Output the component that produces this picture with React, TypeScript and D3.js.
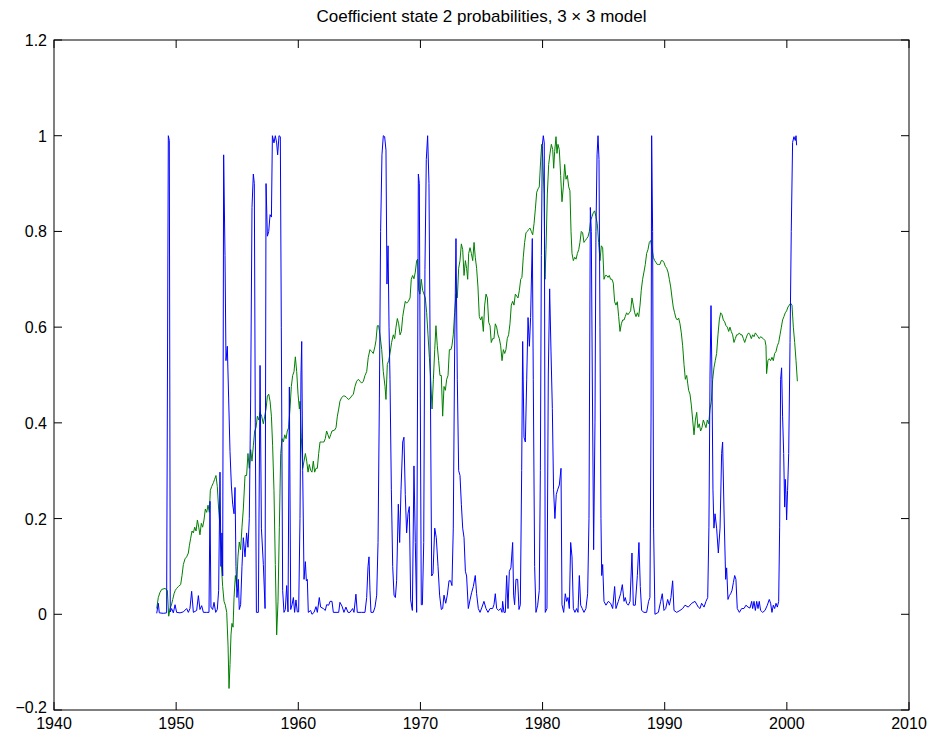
import React from "react";
import * as d3 from "d3";

const titleText = "Coefficient state 2 probabilities, 3 \u00d7 3 model";
const xTicks = [1940, 1950, 1960, 1970, 1980, 1990, 2000, 2010];
const yTicks = [-0.2, 0, 0.2, 0.4, 0.6, 0.8, 1, 1.2];

// blue series: [year, probability]
const blueSeries: [number, number][] = [
  [1948.41,0.002],[1948.54,0.023],[1948.62,0.003],[1948.95,0.002],[1949.22,0.003],[1949.36,1.0],[1949.44,0.99],[1949.52,0.005],
  [1949.63,0.012],[1949.77,0.003],[1949.91,0.02],[1950.04,0.004],[1950.32,0.003],[1950.59,0.005],[1950.86,0.012],[1951.0,0.004],
  [1951.13,0.012],[1951.27,0.048],[1951.41,0.004],[1951.68,0.008],[1951.82,0.039],[1951.95,0.01],[1952.09,0.018],[1952.23,0.004],
  [1952.5,0.004],[1952.69,0.004],[1952.77,0.236],[1952.85,0.015],[1952.99,0.01],[1953.1,0.025],[1953.24,0.004],[1953.37,0.01],
  [1953.48,0.05],[1953.59,0.297],[1953.67,0.1],[1953.75,0.17],[1953.81,0.08],[1953.89,0.96],[1954.0,0.75],[1954.08,0.53],
  [1954.19,0.56],[1954.3,0.45],[1954.41,0.34],[1954.52,0.27],[1954.63,0.23],[1954.74,0.21],[1954.82,0.265],[1954.9,0.1],
  [1954.98,0.035],[1955.09,0.073],[1955.17,0.01],[1955.28,0.02],[1955.39,0.1],[1955.5,0.16],[1955.64,0.12],[1955.77,0.17],
  [1955.88,0.14],[1955.99,0.2],[1956.1,0.45],[1956.21,0.85],[1956.32,0.92],[1956.4,0.9],[1956.48,0.4],[1956.57,0.004],
  [1956.73,0.004],[1956.87,0.52],[1956.98,0.18],[1957.14,0.104],[1957.28,0.012],[1957.36,0.9],[1957.47,0.79],[1957.58,0.8],
  [1957.69,0.835],[1957.8,0.83],[1957.88,1.0],[1958.01,0.985],[1958.12,1.0],[1958.23,0.985],[1958.31,0.96],[1958.42,1.0],
  [1958.53,0.998],[1958.61,0.6],[1958.72,0.05],[1958.83,0.004],[1958.94,0.01],[1959.05,0.06],[1959.16,0.005],[1959.27,0.475],
  [1959.38,0.01],[1959.49,0.02],[1959.6,0.035],[1959.7,0.004],[1959.81,0.03],[1959.92,0.005],[1960.03,0.005],[1960.14,0.2],
  [1960.22,0.5],[1960.28,0.57],[1960.36,0.3],[1960.47,0.073],[1960.58,0.11],[1960.66,0.07],[1960.74,0.073],[1960.82,0.004],
  [1961.01,0.008],[1961.12,0.0],[1961.29,0.004],[1961.45,0.016],[1961.56,0.004],[1961.72,0.035],[1961.83,0.015],[1962.05,0.012],
  [1962.21,0.008],[1962.32,0.02],[1962.49,0.019],[1962.6,0.027],[1962.76,0.027],[1962.87,0.004],[1963.09,0.004],[1963.31,0.004],
  [1963.41,0.025],[1963.58,0.017],[1963.74,0.004],[1963.9,0.015],[1964.07,0.004],[1964.23,0.004],[1964.45,0.012],[1964.56,0.004],
  [1964.72,0.042],[1964.83,0.004],[1965.19,0.004],[1965.46,0.004],[1965.6,0.035],[1965.71,0.1],[1965.79,0.12],[1965.87,0.05],
  [1965.95,0.004],[1966.14,0.004],[1966.28,0.015],[1966.42,0.04],[1966.53,0.15],[1966.64,0.45],[1966.74,0.8],[1966.85,0.96],
  [1966.96,1.0],[1967.07,0.998],[1967.18,0.97],[1967.26,0.69],[1967.35,0.77],[1967.43,0.6],[1967.51,0.49],[1967.62,0.26],
  [1967.73,0.1],[1967.84,0.04],[1967.95,0.035],[1968.05,0.07],[1968.19,0.23],[1968.3,0.15],[1968.41,0.26],[1968.55,0.36],
  [1968.65,0.37],[1968.76,0.25],[1968.87,0.17],[1968.98,0.21],[1969.09,0.225],[1969.2,0.03],[1969.34,0.008],[1969.47,0.31],
  [1969.58,0.15],[1969.69,0.004],[1969.77,0.5],[1969.83,0.92],[1969.91,0.9],[1969.99,0.45],[1970.07,0.02],[1970.16,0.02],
  [1970.27,0.15],[1970.37,0.72],[1970.48,0.95],[1970.59,1.0],[1970.7,0.9],[1970.81,0.5],[1970.92,0.08],[1971.03,0.085],
  [1971.17,0.18],[1971.3,0.16],[1971.44,0.1],[1971.57,0.04],[1971.71,0.01],[1971.82,0.012],[1971.93,0.04],[1972.07,0.023],
  [1972.2,0.04],[1972.34,0.07],[1972.47,0.07],[1972.58,0.06],[1972.69,0.18],[1972.8,0.55],[1972.91,0.785],[1973.02,0.49],
  [1973.13,0.3],[1973.24,0.29],[1973.35,0.23],[1973.46,0.18],[1973.57,0.16],[1973.68,0.09],[1973.78,0.08],[1973.92,0.012],
  [1974.06,0.03],[1974.19,0.045],[1974.33,0.058],[1974.49,0.081],[1974.6,0.043],[1974.74,0.012],[1974.88,0.004],[1975.04,0.015],
  [1975.2,0.027],[1975.37,0.012],[1975.53,0.004],[1975.7,0.012],[1975.91,0.012],[1976.02,0.02],[1976.13,0.043],[1976.24,0.012],
  [1976.4,0.008],[1976.57,0.012],[1976.68,0.004],[1976.73,0.027],[1976.84,0.004],[1976.95,0.004],[1977.06,0.081],[1977.17,0.012],
  [1977.28,0.09],[1977.41,0.097],[1977.55,0.15],[1977.63,0.04],[1977.71,0.02],[1977.82,0.073],[1977.96,0.073],[1978.07,0.01],
  [1978.18,0.02],[1978.29,0.3],[1978.37,0.57],[1978.48,0.37],[1978.59,0.36],[1978.7,0.49],[1978.81,0.62],[1978.92,0.56],
  [1979.02,0.62],[1979.16,0.785],[1979.24,0.49],[1979.35,0.1],[1979.46,0.004],[1979.6,0.019],[1979.73,0.05],[1979.82,0.3],
  [1979.9,0.75],[1979.98,0.98],[1980.06,1.0],[1980.14,0.985],[1980.22,0.004],[1980.36,0.012],[1980.47,0.5],[1980.58,0.68],
  [1980.69,0.55],[1980.8,0.43],[1980.9,0.26],[1981.01,0.2],[1981.12,0.25],[1981.23,0.26],[1981.37,0.27],[1981.51,0.305],
  [1981.59,0.02],[1981.73,0.004],[1981.86,0.043],[1981.97,0.027],[1982.08,0.035],[1982.19,0.012],[1982.3,0.15],[1982.41,0.12],
  [1982.52,0.012],[1982.65,0.004],[1982.79,0.012],[1982.9,0.004],[1983.01,0.081],[1983.12,0.019],[1983.25,0.012],[1983.39,0.004],
  [1983.55,0.012],[1983.69,0.043],[1983.8,0.2],[1983.91,0.85],[1983.99,0.8],[1984.07,0.5],[1984.18,0.135],[1984.29,0.4],
  [1984.37,0.8],[1984.46,0.96],[1984.54,1.0],[1984.62,0.95],[1984.7,0.6],[1984.78,0.2],[1984.84,0.081],[1984.92,0.104],
  [1985.03,0.027],[1985.19,0.019],[1985.38,0.027],[1985.57,0.023],[1985.74,0.012],[1985.9,0.058],[1986.01,0.012],[1986.2,0.027],
  [1986.39,0.043],[1986.53,0.062],[1986.67,0.027],[1986.77,0.035],[1986.88,0.023],[1987.02,0.019],[1987.16,0.027],[1987.32,0.128],
  [1987.43,0.019],[1987.59,0.019],[1987.76,0.081],[1987.89,0.15],[1988.0,0.058],[1988.11,0.008],[1988.3,0.004],[1988.52,0.004],
  [1988.68,0.027],[1988.79,0.035],[1988.88,0.41],[1988.93,1.0],[1989.01,0.8],[1989.09,0.18],[1989.2,0.0],[1989.48,0.004],
  [1989.67,0.027],[1989.8,0.043],[1989.94,0.008],[1990.08,0.012],[1990.24,0.031],[1990.38,0.019],[1990.51,0.035],[1990.65,0.07],
  [1990.76,0.008],[1990.98,0.004],[1991.25,0.008],[1991.47,0.012],[1991.66,0.019],[1991.93,0.015],[1992.21,0.023],[1992.48,0.027],
  [1992.75,0.015],[1992.89,0.012],[1993.02,0.023],[1993.22,0.015],[1993.38,0.027],[1993.52,0.035],[1993.62,0.182],[1993.71,0.5],
  [1993.79,0.645],[1993.87,0.49],[1993.95,0.26],[1994.03,0.18],[1994.12,0.21],[1994.25,0.18],[1994.39,0.128],[1994.53,0.18],
  [1994.66,0.336],[1994.74,0.36],[1994.85,0.22],[1994.99,0.073],[1995.07,0.097],[1995.18,0.031],[1995.29,0.039],[1995.4,0.043],
  [1995.51,0.05],[1995.62,0.066],[1995.73,0.081],[1995.83,0.073],[1995.94,0.012],[1996.11,0.004],[1996.3,0.012],[1996.49,0.012],
  [1996.65,0.019],[1996.82,0.015],[1996.98,0.013],[1997.12,0.027],[1997.2,0.012],[1997.31,0.027],[1997.42,0.008],[1997.53,0.027],
  [1997.64,0.012],[1997.74,0.027],[1997.85,0.008],[1998.02,0.004],[1998.21,0.008],[1998.4,0.019],[1998.56,0.031],[1998.67,0.023],
  [1998.78,0.004],[1998.89,0.019],[1999.0,0.012],[1999.11,0.023],[1999.22,0.015],[1999.33,0.027],[1999.41,0.182],[1999.49,0.491],
  [1999.57,0.515],[1999.65,0.414],[1999.74,0.336],[1999.82,0.224],[1999.87,0.282],[1999.93,0.25],[1999.98,0.197],[2000.06,0.259],
  [2000.15,0.336],[2000.26,0.568],[2000.36,0.8],[2000.47,0.986],[2000.58,0.998],[2000.69,0.99],[2000.75,1.0],[2000.8,0.98]
];

// green series: [year, probability]
const greenSeries: [number, number][] = [
  [1948.41,0.012],[1948.54,0.035],[1948.68,0.046],[1948.82,0.052],[1949.09,0.054],[1949.28,0.05],[1949.39,-0.004],[1949.5,0.012],
  [1949.61,0.019],[1949.72,0.031],[1949.83,0.043],[1949.93,0.05],[1950.04,0.054],[1950.18,0.058],[1950.37,0.062],[1950.48,0.081],
  [1950.59,0.104],[1950.73,0.116],[1950.86,0.12],[1951.0,0.128],[1951.08,0.143],[1951.19,0.159],[1951.3,0.174],[1951.41,0.17],
  [1951.52,0.182],[1951.63,0.174],[1951.74,0.197],[1951.85,0.182],[1951.95,0.166],[1952.06,0.19],[1952.17,0.182],[1952.28,0.197],
  [1952.39,0.22],[1952.5,0.213],[1952.61,0.228],[1952.72,0.213],[1952.8,0.259],[1952.91,0.267],[1953.05,0.275],[1953.15,0.282],
  [1953.26,0.29],[1953.37,0.267],[1953.48,0.22],[1953.59,0.182],[1953.7,0.104],[1953.81,0.058],[1953.92,0.027],[1954.03,0.019],
  [1954.14,0.004],[1954.25,-0.066],[1954.33,-0.155],[1954.41,-0.105],[1954.49,-0.043],[1954.57,-0.019],[1954.66,-0.027],[1954.74,0.035],
  [1954.85,0.081],[1954.96,0.058],[1955.06,0.12],[1955.17,0.151],[1955.28,0.135],[1955.39,0.182],[1955.5,0.22],[1955.64,0.29],
  [1955.77,0.29],[1955.88,0.336],[1955.99,0.305],[1956.1,0.344],[1956.21,0.32],[1956.32,0.352],[1956.43,0.383],[1956.54,0.39],
  [1956.65,0.414],[1956.76,0.406],[1956.87,0.422],[1957.0,0.414],[1957.14,0.398],[1957.25,0.414],[1957.36,0.429],[1957.47,0.456],
  [1957.58,0.46],[1957.69,0.445],[1957.8,0.414],[1957.9,0.352],[1958.01,0.259],[1958.12,0.104],[1958.23,-0.043],[1958.34,0.027],
  [1958.45,0.182],[1958.56,0.336],[1958.67,0.367],[1958.78,0.36],[1958.89,0.375],[1959.0,0.367],[1959.1,0.383],[1959.21,0.39],
  [1959.32,0.429],[1959.43,0.476],[1959.54,0.499],[1959.65,0.507],[1959.76,0.538],[1959.87,0.507],[1959.98,0.46],[1960.09,0.429],
  [1960.14,0.445],[1960.25,0.37],[1960.36,0.305],[1960.47,0.32],[1960.58,0.336],[1960.69,0.32],[1960.8,0.297],[1960.9,0.313],
  [1961.01,0.301],[1961.12,0.297],[1961.23,0.32],[1961.34,0.297],[1961.45,0.305],[1961.56,0.305],[1961.67,0.336],[1961.78,0.36],
  [1961.89,0.36],[1962.0,0.36],[1962.1,0.36],[1962.21,0.367],[1962.32,0.383],[1962.43,0.375],[1962.54,0.367],[1962.65,0.375],
  [1962.76,0.383],[1962.98,0.385],[1963.09,0.39],[1963.2,0.414],[1963.31,0.429],[1963.41,0.445],[1963.55,0.453],[1963.69,0.456],
  [1963.82,0.456],[1963.96,0.453],[1964.1,0.449],[1964.23,0.451],[1964.37,0.456],[1964.51,0.46],[1964.64,0.476],[1964.78,0.487],
  [1964.92,0.491],[1965.05,0.487],[1965.19,0.483],[1965.33,0.487],[1965.46,0.499],[1965.6,0.507],[1965.73,0.537],[1965.87,0.553],
  [1966.01,0.549],[1966.14,0.545],[1966.28,0.56],[1966.36,0.572],[1966.47,0.603],[1966.58,0.603],[1966.69,0.584],[1966.83,0.553],
  [1966.96,0.507],[1967.1,0.476],[1967.18,0.449],[1967.29,0.522],[1967.4,0.53],[1967.51,0.545],[1967.64,0.568],[1967.78,0.584],
  [1967.89,0.576],[1968.0,0.6],[1968.11,0.618],[1968.22,0.607],[1968.33,0.584],[1968.44,0.591],[1968.55,0.622],[1968.65,0.638],
  [1968.76,0.654],[1968.87,0.65],[1969.01,0.654],[1969.15,0.661],[1969.25,0.7],[1969.36,0.708],[1969.47,0.701],[1969.58,0.715],
  [1969.69,0.739],[1969.77,0.742],[1969.86,0.677],[1969.96,0.669],[1970.07,0.7],[1970.18,0.677],[1970.29,0.669],[1970.4,0.661],
  [1970.51,0.63],[1970.62,0.584],[1970.73,0.537],[1970.84,0.491],[1970.95,0.429],[1971.06,0.491],[1971.17,0.553],[1971.27,0.603],
  [1971.38,0.561],[1971.49,0.53],[1971.6,0.499],[1971.71,0.499],[1971.82,0.414],[1971.93,0.476],[1972.04,0.468],[1972.15,0.491],
  [1972.26,0.499],[1972.37,0.553],[1972.5,0.553],[1972.58,0.561],[1972.69,0.584],[1972.8,0.63],[1972.91,0.669],[1973.02,0.661],
  [1973.13,0.723],[1973.24,0.739],[1973.35,0.774],[1973.46,0.762],[1973.57,0.708],[1973.68,0.739],[1973.78,0.723],[1973.87,0.7],
  [1973.95,0.754],[1974.06,0.766],[1974.17,0.754],[1974.28,0.739],[1974.39,0.777],[1974.49,0.746],[1974.6,0.723],[1974.71,0.684],
  [1974.82,0.622],[1974.93,0.615],[1975.04,0.622],[1975.15,0.591],[1975.26,0.646],[1975.37,0.669],[1975.48,0.661],[1975.59,0.61],
  [1975.7,0.603],[1975.8,0.568],[1975.91,0.576],[1976.02,0.576],[1976.13,0.607],[1976.24,0.6],[1976.35,0.584],[1976.46,0.576],
  [1976.57,0.561],[1976.68,0.53],[1976.79,0.553],[1976.9,0.545],[1977.0,0.553],[1977.11,0.576],[1977.22,0.584],[1977.33,0.607],
  [1977.44,0.646],[1977.55,0.654],[1977.66,0.646],[1977.77,0.669],[1977.88,0.665],[1977.99,0.661],[1978.1,0.677],[1978.21,0.7],
  [1978.31,0.704],[1978.42,0.746],[1978.53,0.777],[1978.64,0.797],[1978.75,0.8],[1978.86,0.804],[1978.97,0.807],[1979.08,0.8],
  [1979.19,0.793],[1979.3,0.816],[1979.41,0.847],[1979.52,0.882],[1979.63,0.889],[1979.73,0.893],[1979.84,0.947],[1979.93,0.982],
  [1980.01,0.955],[1980.12,0.878],[1980.2,0.7],[1980.28,0.762],[1980.39,0.878],[1980.5,0.94],[1980.61,0.963],[1980.72,0.982],
  [1980.83,0.971],[1980.91,0.932],[1980.99,0.967],[1981.1,0.998],[1981.18,0.963],[1981.26,0.982],[1981.37,0.971],[1981.48,0.917],
  [1981.59,0.862],[1981.7,0.893],[1981.81,0.94],[1981.92,0.909],[1982.03,0.917],[1982.14,0.893],[1982.24,0.885],[1982.33,0.8],
  [1982.41,0.754],[1982.52,0.739],[1982.63,0.746],[1982.74,0.742],[1982.85,0.754],[1982.96,0.762],[1983.06,0.777],[1983.17,0.8],
  [1983.28,0.797],[1983.39,0.777],[1983.5,0.781],[1983.61,0.785],[1983.72,0.789],[1983.83,0.8],[1983.94,0.824],[1984.05,0.831],
  [1984.15,0.839],[1984.26,0.843],[1984.37,0.831],[1984.48,0.816],[1984.59,0.777],[1984.7,0.739],[1984.81,0.77],[1984.92,0.766],
  [1985.03,0.7],[1985.14,0.708],[1985.25,0.708],[1985.36,0.704],[1985.46,0.708],[1985.57,0.7],[1985.68,0.7],[1985.79,0.692],
  [1985.9,0.653],[1986.01,0.646],[1986.12,0.653],[1986.23,0.622],[1986.34,0.591],[1986.45,0.607],[1986.56,0.615],[1986.67,0.615],
  [1986.77,0.622],[1986.88,0.63],[1986.99,0.626],[1987.1,0.63],[1987.21,0.634],[1987.32,0.661],[1987.43,0.646],[1987.54,0.63],
  [1987.65,0.622],[1987.76,0.63],[1987.87,0.622],[1987.98,0.646],[1988.08,0.677],[1988.19,0.7],[1988.3,0.715],[1988.41,0.731],
  [1988.52,0.754],[1988.63,0.762],[1988.74,0.777],[1988.85,0.781],[1988.96,0.766],[1989.07,0.746],[1989.18,0.739],[1989.29,0.735],
  [1989.39,0.731],[1989.5,0.731],[1989.61,0.731],[1989.72,0.739],[1989.83,0.739],[1989.94,0.735],[1990.05,0.727],[1990.16,0.723],
  [1990.27,0.715],[1990.38,0.7],[1990.49,0.684],[1990.6,0.661],[1990.7,0.642],[1990.81,0.63],[1990.92,0.619],[1991.03,0.615],
  [1991.14,0.619],[1991.25,0.607],[1991.36,0.588],[1991.47,0.561],[1991.58,0.522],[1991.69,0.491],[1991.8,0.499],[1991.88,0.483],
  [1991.96,0.468],[1992.07,0.46],[1992.18,0.437],[1992.29,0.406],[1992.4,0.375],[1992.51,0.406],[1992.62,0.422],[1992.72,0.39],
  [1992.83,0.398],[1992.94,0.383],[1993.05,0.39],[1993.16,0.406],[1993.27,0.398],[1993.38,0.39],[1993.49,0.406],[1993.6,0.398],
  [1993.71,0.429],[1993.82,0.445],[1993.93,0.491],[1994.03,0.515],[1994.14,0.53],[1994.25,0.545],[1994.36,0.584],[1994.47,0.615],
  [1994.58,0.63],[1994.69,0.626],[1994.8,0.615],[1994.91,0.611],[1995.02,0.603],[1995.13,0.6],[1995.24,0.591],[1995.34,0.6],
  [1995.45,0.591],[1995.56,0.584],[1995.67,0.568],[1995.78,0.576],[1995.89,0.584],[1995.99,0.584],[1996.11,0.588],[1996.22,0.584],
  [1996.33,0.584],[1996.44,0.576],[1996.55,0.568],[1996.65,0.576],[1996.76,0.584],[1996.87,0.588],[1996.98,0.584],[1997.09,0.576],
  [1997.2,0.584],[1997.31,0.58],[1997.42,0.588],[1997.53,0.584],[1997.64,0.58],[1997.74,0.576],[1997.85,0.58],[1997.96,0.578],
  [1998.07,0.576],[1998.21,0.572],[1998.29,0.561],[1998.34,0.503],[1998.45,0.53],[1998.56,0.534],[1998.67,0.53],[1998.78,0.537],
  [1998.89,0.53],[1999.0,0.545],[1999.11,0.549],[1999.22,0.561],[1999.33,0.568],[1999.44,0.584],[1999.55,0.6],[1999.65,0.615],
  [1999.76,0.622],[1999.87,0.63],[1999.98,0.634],[2000.09,0.642],[2000.2,0.646],[2000.31,0.65],[2000.42,0.646],[2000.53,0.6],
  [2000.64,0.568],[2000.75,0.53],[2000.86,0.487]
];

const W = 928;
const H = 740;
const M = { left: 54, right: 909, top: 40, bottom: 710 };
const FONT = "'Liberation Sans', Arial, Helvetica, sans-serif";

export default function App() {
  const x = d3.scaleLinear().domain([1940, 2010]).range([M.left, M.right]);
  const y = d3.scaleLinear().domain([-0.2, 1.2]).range([M.bottom, M.top]);
  const line = d3
    .line<[number, number]>()
    .x((d) => x(d[0]))
    .y((d) => y(d[1]));
  const tickLen = 8;
  const fmtY = (v: number) => {
    const s = d3.format("~g")(Math.round(v * 10) / 10);
    return s.replace("-", "\u2212");
  };

  return (
    <svg
      width={W}
      height={H}
      style={{ position: "absolute", left: 0, top: 0, background: "#fff" }}
      fontFamily={FONT}
    >
      <rect x={0} y={0} width={W} height={H} fill="#fff" />
      <text
        x={(M.left + M.right) / 2}
        y={22}
        textAnchor="middle"
        fontSize={17}
        fill="#000"
      >
        {titleText}
      </text>
      <defs>
        <clipPath id="clip">
          <rect x={M.left} y={M.top} width={M.right - M.left} height={M.bottom - M.top} />
        </clipPath>
      </defs>
      <g clipPath="url(#clip)">
        <path d={line(greenSeries) || ""} fill="none" stroke="#008000" strokeWidth={1} />
        <path d={line(blueSeries) || ""} fill="none" stroke="#0000ff" strokeWidth={1} />
      </g>
      {xTicks.map((t) => (
        <g key={"x" + t}>
          <line x1={x(t)} x2={x(t)} y1={M.bottom} y2={M.bottom - tickLen} stroke="#000" />
          <line x1={x(t)} x2={x(t)} y1={M.top} y2={M.top + tickLen} stroke="#000" />
          <text x={x(t)} y={M.bottom + 19} textAnchor="middle" fontSize={16} fill="#000">
            {t}
          </text>
        </g>
      ))}
      {yTicks.map((t) => (
        <g key={"y" + t}>
          <line x1={M.left} x2={M.left + tickLen} y1={y(t)} y2={y(t)} stroke="#000" />
          <line x1={M.right} x2={M.right - tickLen} y1={y(t)} y2={y(t)} stroke="#000" />
          <text x={M.left - 7} y={y(t) + (t === -0.2 ? 3 : 6)} textAnchor="end" fontSize={16} fill="#000">
            {fmtY(t)}
          </text>
        </g>
      ))}
      <rect
        x={M.left}
        y={M.top}
        width={M.right - M.left}
        height={M.bottom - M.top}
        fill="none"
        stroke="#000"
        strokeWidth={1}
      />
    </svg>
  );
}
